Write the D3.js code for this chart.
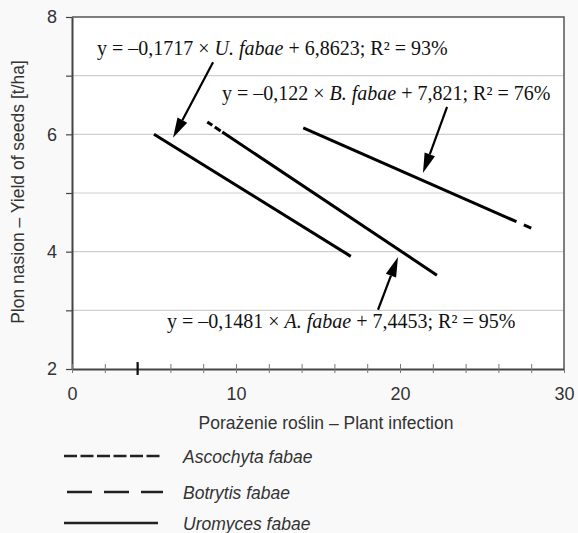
<!DOCTYPE html>
<html>
<head>
<meta charset="utf-8">
<script src="https://cdn.jsdelivr.net/npm/d3@7/dist/d3.min.js"></script>
<style>
  body { margin: 0; background: #f9f9f9; }
  .tick-label { font-family: 'Liberation Sans', Arial, sans-serif; font-size: 18px; fill: #333; }
  .axis-title { font-family: 'Liberation Sans', Arial, sans-serif; font-size: 17.5px; fill: #333; }
  .equation { font-family: 'Liberation Serif', 'Times New Roman', serif; font-size: 20px; fill: #111; }
  .legend-text { font-family: 'Liberation Sans', Arial, sans-serif; font-size: 17.5px; font-style: italic; fill: #333; }
</style>
</head>
<body>
<div id="chart"></div>
<script>
// chart values
const xTickLabels = [0, 10, 20, 30];
const xMinorTicks = [0, 2, 4, 6, 8, 10, 12, 14, 16, 18, 20, 22, 24, 26, 28, 30];
const yTickLabels = [2, 4, 6, 8];
const yGridValues = [3, 4, 5, 6, 7];
const yMinorTicks = [3, 5, 7];
const markedX = [4];

const seriesNames = ['Ascochyta fabae', 'Botrytis fabae', 'Uromyces fabae'];
// [plant infection, yield] at each end of the fitted lines
const ascochytaLine = [[8.25, 6.21], [22.25, 3.6]];
const botrytisLine = [[14.1, 6.11], [28.0, 4.4]];
const uromycesLine = [[5.0, 6.0], [17.0, 3.92]];

const equationTexts = [
  { pre: 'y = \u20130,1717 \u00d7 ', it: 'U. fabae', post: ' + 6,8623; R\u00b2 = 93%' },
  { pre: 'y = \u20130,122 \u00d7 ', it: 'B. fabae', post: ' + 7,821; R\u00b2 = 76%' },
  { pre: 'y = \u20130,1481 \u00d7 ', it: 'A. fabae', post: ' + 7,4453; R\u00b2 = 95%' }
];

const width = 578;
const height = 533;
const margins = { top: 17, left: 72, right: 14, bottom: 164 };

const svg = d3.select('#chart')
  .append('svg')
  .attr('width', width)
  .attr('height', height);

const xScale = d3.scaleLinear()
  .domain([0, 30])
  .range([margins.left, width - margins.right]);

const yScale = d3.scaleLinear()
  .domain([2, 8])
  .range([height - margins.bottom, margins.top]);

// plot background
svg.append('rect')
  .attr('x', xScale(0))
  .attr('y', yScale(8))
  .attr('width', xScale(30) - xScale(0))
  .attr('height', yScale(2) - yScale(8))
  .style('fill', '#fff');

// gridlines
svg.selectAll('line.grid')
  .data(yGridValues)
  .enter()
  .append('line')
  .attr('class', 'grid')
  .attr('x1', xScale(0))
  .attr('x2', xScale(30))
  .attr('y1', function(d) { return yScale(d); })
  .attr('y2', function(d) { return yScale(d); })
  .style('stroke', '#cfcfcf')
  .style('stroke-width', 1.2);

// top and right frame
svg.append('path')
  .attr('d', 'M' + xScale(0) + ',' + yScale(8) + 'H' + xScale(30) + 'V' + yScale(2))
  .style('fill', 'none')
  .style('stroke', '#555')
  .style('stroke-width', 1.5);

// y axis
const yAxis = d3.axisLeft(yScale)
  .tickValues(yTickLabels.concat(yMinorTicks))
  .tickSizeInner(6)
  .tickSizeOuter(0)
  .tickPadding(9)
  .tickFormat(function(d) { return yTickLabels.indexOf(d) >= 0 ? d : ''; });

const yAxisG = svg.append('g')
  .attr('transform', 'translate(' + xScale(0) + ',0)')
  .call(yAxis);
yAxisG.select('.domain').style('stroke', '#444').style('stroke-width', 2);
yAxisG.selectAll('.tick line').style('stroke', '#444').style('stroke-width', 1.2);
yAxisG.selectAll('.tick text').attr('class', 'tick-label').attr('font-size', null).attr('font-family', null);

// x axis
const xAxis = d3.axisBottom(xScale)
  .tickValues(xMinorTicks)
  .tickSizeInner(4)
  .tickSizeOuter(0)
  .tickPadding(14)
  .tickFormat(function(d) { return xTickLabels.indexOf(d) >= 0 ? d : ''; });

const xAxisG = svg.append('g')
  .attr('transform', 'translate(0,' + yScale(2) + ')')
  .call(xAxis);
xAxisG.select('.domain').style('stroke', '#444').style('stroke-width', 2);
xAxisG.selectAll('.tick line')
  .attr('y1', -5)
  .style('stroke', '#777')
  .style('stroke-width', 1);
xAxisG.selectAll('.tick text').attr('class', 'tick-label').attr('font-size', null).attr('font-family', null);

// heavy marker on the x axis
svg.selectAll('line.marked')
  .data(markedX)
  .enter()
  .append('line')
  .attr('class', 'marked')
  .attr('x1', function(d) { return xScale(d); })
  .attr('x2', function(d) { return xScale(d); })
  .attr('y1', yScale(2) - 7)
  .attr('y2', yScale(2) + 6)
  .style('stroke', '#111')
  .style('stroke-width', 2.2);

// axis titles
svg.append('text')
  .attr('class', 'axis-title')
  .attr('x', 326)
  .attr('y', 429)
  .style('text-anchor', 'middle')
  .text('Pora\u017cenie ro\u015blin \u2013 Plant infection');

svg.append('text')
  .attr('class', 'axis-title')
  .attr('transform', 'translate(24,' + 192 + ') rotate(-90)')
  .style('text-anchor', 'middle')
  .text('Plon nasion \u2013 Yield of seeds [t/ha]');

// fitted lines
const line = d3.line()
  .x(function(d) { return xScale(d[0]); })
  .y(function(d) { return yScale(d[1]); });

const fitted = [
  { data: ascochytaLine, dash: '6,3,7,2,400' },
  { data: botrytisLine, dash: '233,8,30' },
  { data: uromycesLine, dash: null }
];

svg.selectAll('path.fit')
  .data(fitted)
  .enter()
  .append('path')
  .attr('class', 'fit')
  .attr('d', function(d) { return line(d.data); })
  .style('fill', 'none')
  .style('stroke', '#000')
  .style('stroke-width', 3)
  .style('stroke-dasharray', function(d) { return d.dash; });

// equations
const eqPos = [[97, 55], [222, 100], [167, 328]];
const eq = svg.selectAll('text.equation')
  .data(equationTexts)
  .enter()
  .append('text')
  .attr('class', 'equation')
  .attr('x', function(d, i) { return eqPos[i][0]; })
  .attr('y', function(d, i) { return eqPos[i][1]; });
eq.append('tspan').text(function(d) { return d.pre; });
eq.append('tspan').style('font-style', 'italic').text(function(d) { return d.it; });
eq.append('tspan').text(function(d) { return d.post; });

// arrows from the equations to the lines (tail, tip) in data units
const arrows = [
  [[8.6, 7.23], [6.16, 5.94]],
  [[22.87, 6.47], [21.4, 5.34]],
  [[18.66, 3.01], [19.88, 3.91]]
];

arrows.forEach(function(a) {
  const x0 = xScale(a[0][0]), y0 = yScale(a[0][1]);
  const x1 = xScale(a[1][0]), y1 = yScale(a[1][1]);
  const ang = Math.atan2(y1 - y0, x1 - x0);
  const headLen = 20, headW = 5.5;
  const bx = x1 - headLen * Math.cos(ang), by = y1 - headLen * Math.sin(ang);
  svg.append('line')
    .attr('x1', x0).attr('y1', y0)
    .attr('x2', bx).attr('y2', by)
    .style('stroke', '#000')
    .style('stroke-width', 2.2);
  svg.append('path')
    .attr('d', 'M' + x1 + ',' + y1 +
      'L' + (bx + headW * Math.sin(ang)) + ',' + (by - headW * Math.cos(ang)) +
      'L' + (bx - headW * Math.sin(ang)) + ',' + (by + headW * Math.cos(ang)) + 'Z')
    .style('fill', '#000');
});

// legend
const legendDash = ['13,3.5', '25,12', null];
const legendY = [456, 492, 523];
const legend = svg.selectAll('g.legend')
  .data(seriesNames)
  .enter()
  .append('g')
  .attr('class', 'legend')
  .attr('transform', function(d, i) { return 'translate(0,' + legendY[i] + ')'; });

legend.append('line')
  .attr('x1', function(d, i) { return i === 1 ? 67 : 64; })
  .attr('x2', function(d, i) { return i === 2 ? 158 : 163; })
  .attr('y1', 0)
  .attr('y2', 0)
  .style('stroke', '#222')
  .style('stroke-width', 2.5)
  .style('stroke-dasharray', function(d, i) { return legendDash[i]; });

legend.append('text')
  .attr('class', 'legend-text')
  .attr('x', 183)
  .attr('y', 7)
  .text(function(d) { return d; });
</script>
</body>
</html>
